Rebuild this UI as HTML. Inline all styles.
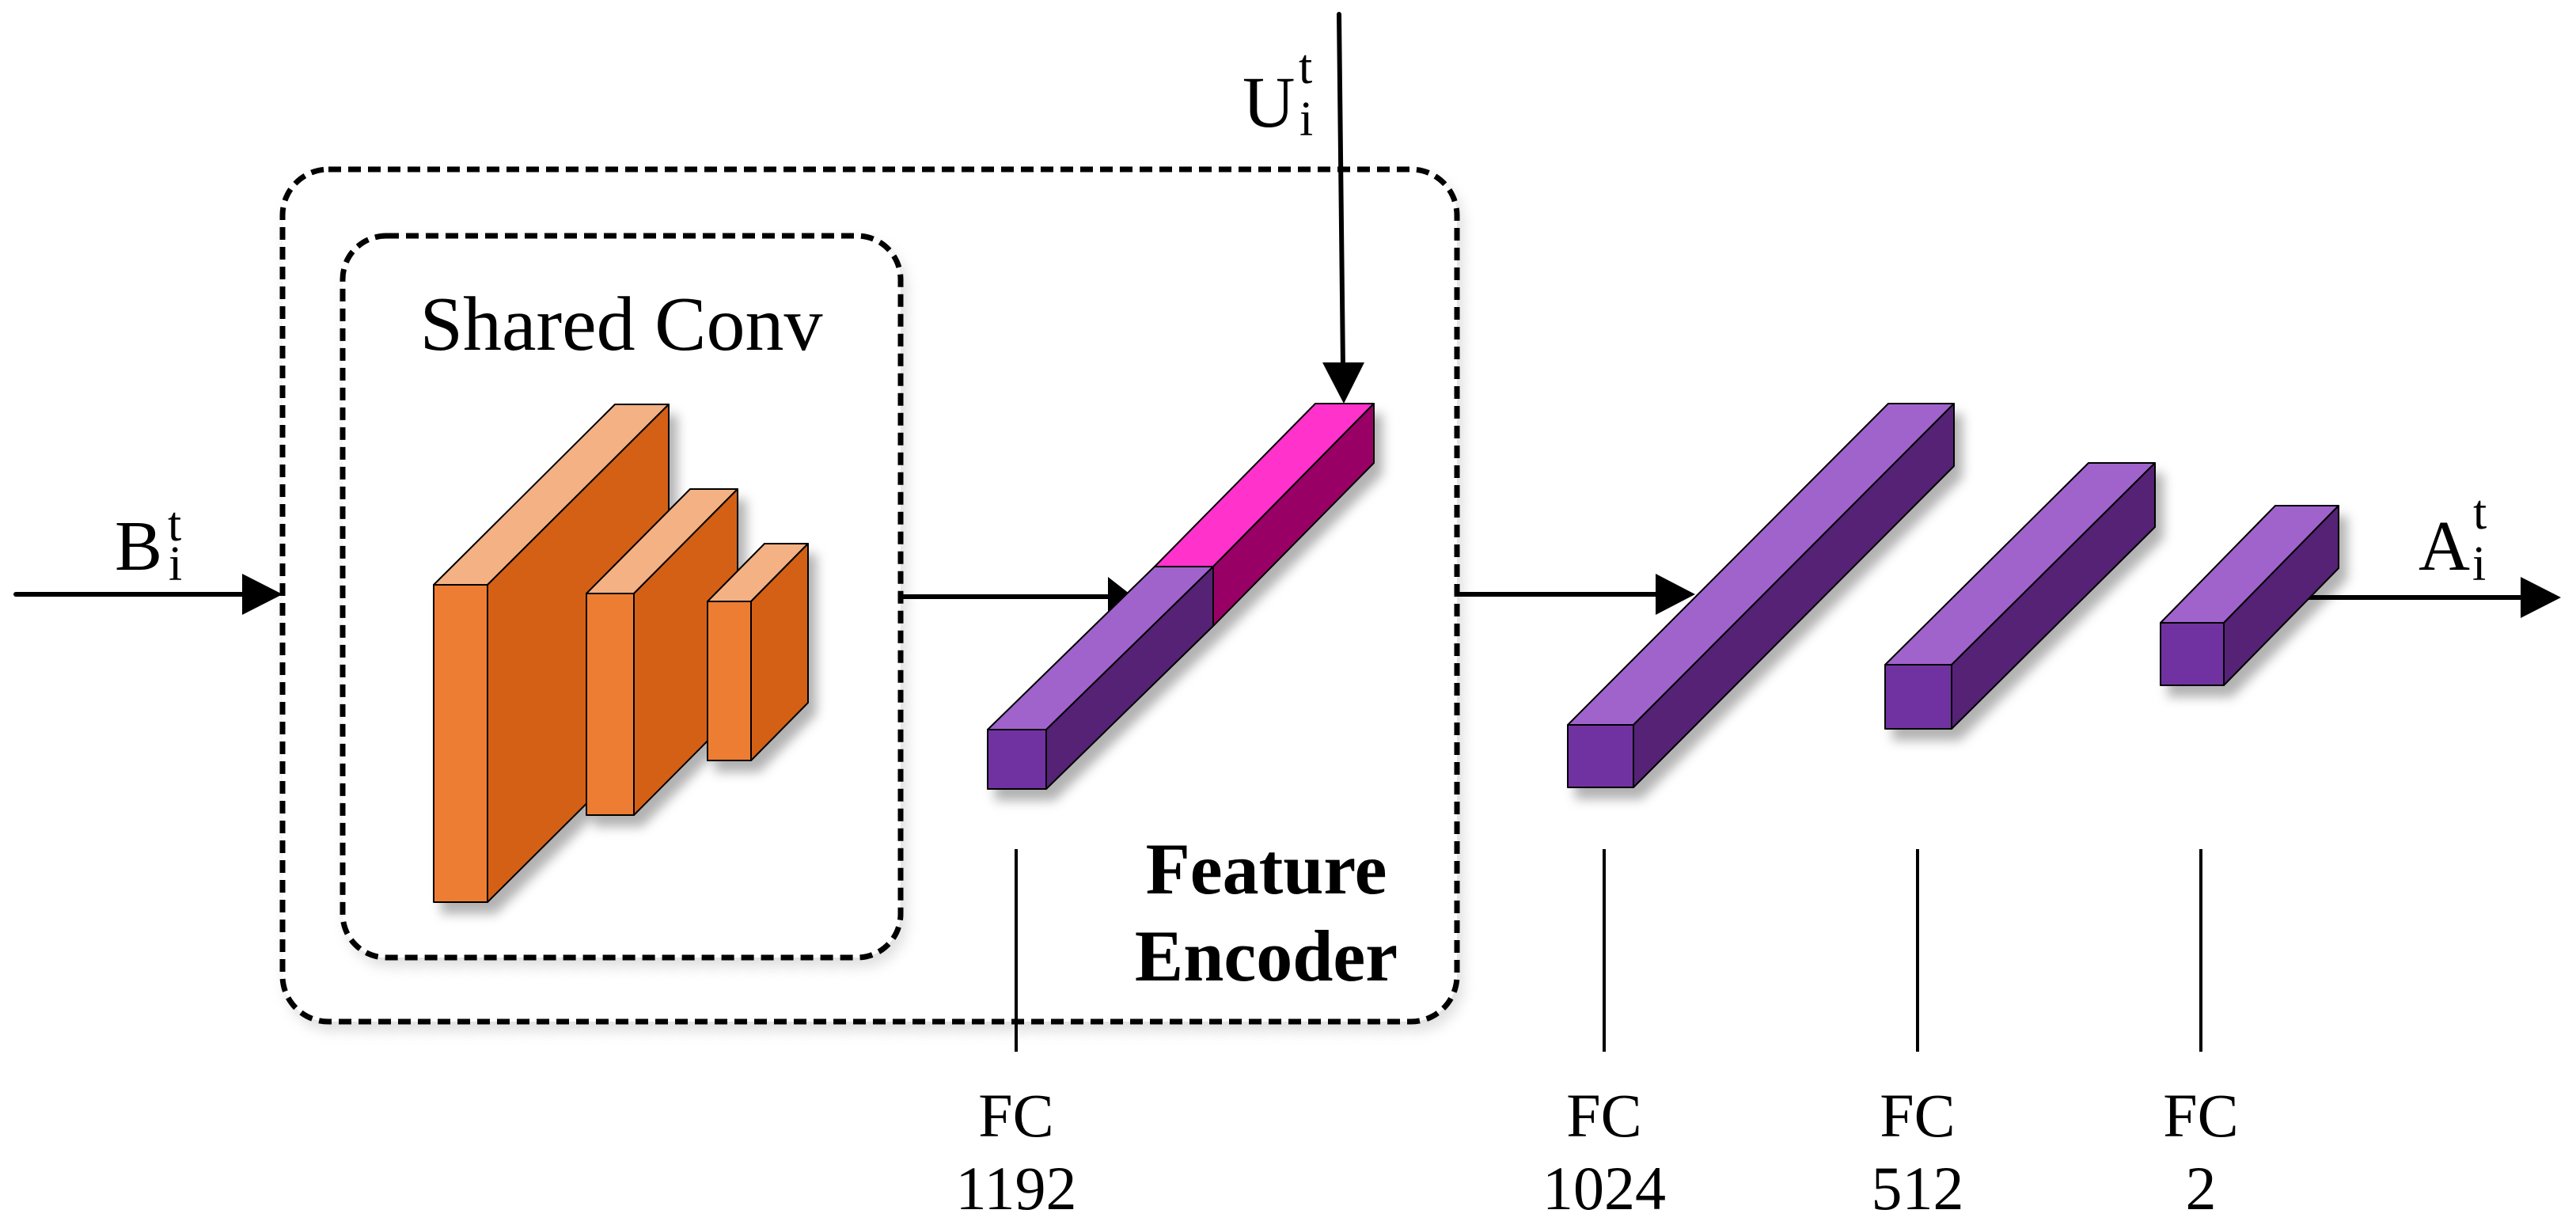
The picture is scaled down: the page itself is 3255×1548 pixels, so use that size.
<!DOCTYPE html>
<html><head><meta charset="utf-8"><style>
html,body{margin:0;padding:0;background:#fff;}
svg{display:block;}
text{font-family:"Liberation Serif",serif;fill:#000;}
</style></head><body>
<svg width="3255" height="1548" viewBox="0 0 3255 1548" xmlns="http://www.w3.org/2000/svg">
<defs>
<filter id="sh" x="-20%" y="-20%" width="150%" height="150%">
<feDropShadow dx="10" dy="14" stdDeviation="7" flood-color="#000" flood-opacity="0.3"/>
</filter>
<filter id="bs" x="-5%" y="-5%" width="110%" height="110%">
<feDropShadow dx="6" dy="10" stdDeviation="8" flood-color="#000" flood-opacity="0.12"/>
</filter>
</defs>

<!-- boxes -->
<rect x="357" y="214" width="1484" height="1077" rx="58" fill="#fff" stroke="#000" stroke-width="7" stroke-dasharray="16 9" filter="url(#bs)"/>
<rect x="433" y="298" width="705" height="912" rx="55" fill="#fff" stroke="#000" stroke-width="7" stroke-dasharray="16 9" filter="url(#bs)"/>

<!-- input arrow -->
<line x1="20" y1="751" x2="312" y2="751" stroke="#000" stroke-width="6" stroke-linecap="round"/>
<polygon points="306,725 357,751 306,777" fill="#000"/>
<text x="145" y="720" font-size="90">B</text>
<text x="212" y="683" font-size="62">t</text>
<text x="213" y="733" font-size="62">i</text>

<text x="785" y="442" font-size="98" text-anchor="middle">Shared Conv</text>

<!-- orange blocks -->
<g stroke="#000" stroke-width="2" stroke-linejoin="round" filter="url(#sh)">
<g>
<polygon points="548,739 616,739 845,511 777,511" fill="#F4B183"/>
<polygon points="616,739 845,511 845,912 616,1140" fill="#D46115"/>
<rect x="548" y="739" width="68" height="401" fill="#ED7D31"/>
</g>
<g>
<polygon points="741,750 801,750 932,618 872,618" fill="#F4B183"/>
<polygon points="801,750 932,618 932,898 801,1030" fill="#D46115"/>
<rect x="741" y="750" width="60" height="280" fill="#ED7D31"/>
</g>
<g>
<polygon points="894,760 949,760 1021,687 966,687" fill="#F4B183"/>
<polygon points="949,760 1021,687 1021,888 949,961" fill="#D46115"/>
<rect x="894" y="760" width="55" height="201" fill="#ED7D31"/>
</g>
</g>

<!-- arrow to fused bar -->
<line x1="1138" y1="754" x2="1405" y2="754" stroke="#000" stroke-width="6"/>
<polygon points="1400,729 1432,754 1400,779" fill="#000"/>

<!-- fused bar -->
<g stroke="#000" stroke-width="2" stroke-linejoin="round" filter="url(#sh)">
<g>
<polygon points="1459,716 1533,716 1736,510 1662,510" fill="#FF33CC"/>
<polygon points="1533,716 1736,510 1736,585 1533,791" fill="#990066"/>
</g>
<g>
<polygon points="1248,922 1322,922 1533,716 1459,716" fill="#A064CC"/>
<polygon points="1322,922 1533,716 1533,791 1322,997" fill="#542374"/>
<rect x="1248" y="922" width="74" height="75" fill="#7030A0"/>
</g>
</g>

<!-- U arrow -->
<line x1="1692" y1="18" x2="1697" y2="465" stroke="#000" stroke-width="6" stroke-linecap="round"/>
<polygon points="1671,458 1724,458 1698,510" fill="#000"/>
<text x="1570" y="160" font-size="92">U</text>
<text x="1641" y="105" font-size="62">t</text>
<text x="1642" y="171" font-size="62">i</text>

<!-- Feature Encoder -->
<text x="1600" y="1129" font-size="92" font-weight="bold" text-anchor="middle">Feature</text>
<text x="1600" y="1239" font-size="92" font-weight="bold" text-anchor="middle">Encoder</text>

<!-- arrow into FC stack -->
<line x1="1841" y1="751" x2="2100" y2="751" stroke="#000" stroke-width="6"/>
<polygon points="2092,725 2142,751 2092,777" fill="#000"/>

<!-- output arrow -->
<line x1="2900" y1="755" x2="3190" y2="755" stroke="#000" stroke-width="6"/>
<polygon points="3185,729 3236,755 3185,781" fill="#000"/>
<text x="3056" y="720" font-size="90">A</text>
<text x="3125" y="668" font-size="62">t</text>
<text x="3124" y="733" font-size="62">i</text>

<!-- FC bars -->
<g stroke="#000" stroke-width="2" stroke-linejoin="round" filter="url(#sh)">
<g>
<polygon points="1981,916 2064,916 2469,510 2386,510" fill="#A064CC"/>
<polygon points="2064,916 2469,510 2469,589 2064,995" fill="#542374"/>
<rect x="1981" y="916" width="83" height="79" fill="#7030A0"/>
</g>
<g>
<polygon points="2382,840 2466,840 2723,585 2639,585" fill="#A064CC"/>
<polygon points="2466,840 2723,585 2723,666 2466,921" fill="#542374"/>
<rect x="2382" y="840" width="84" height="81" fill="#7030A0"/>
</g>
<g>
<polygon points="2730,787 2810,787 2955,639 2875,639" fill="#A064CC"/>
<polygon points="2810,787 2955,639 2955,718 2810,866" fill="#542374"/>
<rect x="2730" y="787" width="80" height="79" fill="#7030A0"/>
</g>
</g>

<!-- FC label lines -->
<g stroke="#000" stroke-width="4">
<line x1="1284" y1="1073" x2="1284" y2="1329"/>
<line x1="2027" y1="1073" x2="2027" y2="1329"/>
<line x1="2423" y1="1073" x2="2423" y2="1329"/>
<line x1="2781" y1="1073" x2="2781" y2="1329"/>
</g>
<g font-size="78" text-anchor="middle">
<text x="1284" y="1436">FC</text><text x="1284" y="1528">1192</text>
<text x="2027" y="1436">FC</text><text x="2027" y="1528">1024</text>
<text x="2423" y="1436">FC</text><text x="2423" y="1528">512</text>
<text x="2781" y="1436">FC</text><text x="2781" y="1528">2</text>
</g>
</svg>
</body></html>
